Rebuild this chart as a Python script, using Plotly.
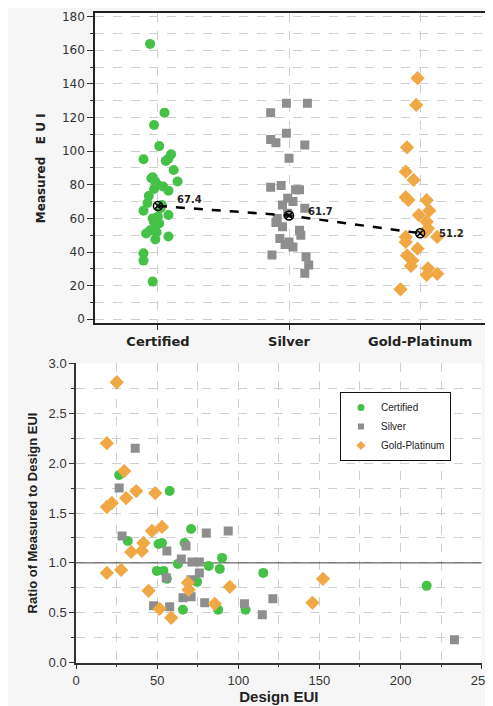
import plotly.graph_objects as go

# ---------------- data: top chart (Measured EUI by level) ----------------
categories = ["Certified", "Silver", "Gold-Platinum"]

cert_measured = [163.8, 122.9, 115.6, 103.0, 95.2, 98.1, 94.2, 95.5, 88.8, 81.9, 83.9, 81.9,
                 79.9, 79.0, 76.5, 73.3, 69.2, 64.6, 60.0, 61.0, 62.0, 55.5, 51.8, 51.0,
                 49.2, 47.5, 39.3, 34.9, 22.4, 66.0, 58.0, 57.0, 68.0, 53.0, 77.5, 84.5]
cert_jitter = [-0.06, 0.05, -0.03, 0.01, -0.11, 0.10, 0.06, 0.08, 0.12, 0.15, -0.05, -0.02,
               0.0, 0.04, 0.08, -0.07, -0.08, -0.11, -0.04, 0.0, 0.08, -0.02, -0.01, -0.09,
               0.08, -0.02, -0.11, -0.11, -0.04, 0.02, -0.03, 0.01, 0.03, -0.06, -0.03, -0.04]

silver_measured = [128.5, 128.5, 122.9, 110.6, 107.0, 105.0, 103.7, 95.8, 78.5, 79.5, 77.0, 77.0,
                   70.0, 68.0, 66.0, 63.0, 57.5, 55.0, 53.0, 48.0, 46.0, 43.0, 50.0, 38.2,
                   37.2, 32.3, 27.4, 44.5, 60.0, 72.0]
silver_jitter = [-0.02, 0.14, -0.14, -0.02, -0.14, -0.10, 0.12, 0.0, -0.14, -0.06, 0.05, 0.08,
                 0.03, -0.05, 0.12, -0.01, -0.10, -0.05, 0.08, -0.07, 0.0, 0.03, 0.09, -0.13,
                 0.13, 0.15, 0.12, -0.03, -0.09, -0.01]

gold_measured = [143.4, 127.5, 102.3, 87.8, 82.9, 72.6, 71.0, 70.8, 64.6, 62.0, 58.0, 54.0,
                 52.0, 49.0, 49.0, 46.0, 42.0, 38.0, 35.0, 31.7, 30.3, 26.4, 27.0, 17.8]
gold_jitter = [-0.02, -0.03, -0.10, -0.11, -0.05, -0.11, -0.09, 0.05, 0.07, -0.01, 0.05, 0.06,
               0.04, 0.13, -0.11, -0.11, -0.02, -0.10, -0.06, -0.07, 0.06, 0.05, 0.13, -0.15]

means = [67.4, 61.7, 51.2]
mean_labels = ["67.4", "61.7", "51.2"]

# ---------------- data: bottom chart (ratio vs design EUI) ----------------
cert_design = [26.6, 57.7, 70.9, 31.9, 53.0, 50.9, 66.9, 90.0, 62.8, 81.8, 49.8, 53.9,
               88.6, 56.0, 74.6, 65.9, 87.6, 104.5, 115.4, 216.1]
cert_ratio = [1.88, 1.72, 1.34, 1.22, 1.20, 1.19, 1.20, 1.05, 0.99, 0.97, 0.92, 0.92,
              0.94, 0.84, 0.81, 0.53, 0.53, 0.53, 0.90, 0.77]

silver_design = [36.5, 26.6, 28.4, 80.3, 93.8, 56.0, 67.8, 64.9, 71.5, 76.0, 76.0, 70.8,
                 55.6, 70.9, 65.9, 47.8, 57.7, 79.3, 103.8, 114.8, 121.3, 233.2]
silver_ratio = [2.15, 1.75, 1.27, 1.30, 1.32, 1.12, 1.17, 1.04, 1.01, 1.01, 0.90, 0.83,
                0.85, 0.66, 0.65, 0.57, 0.56, 0.60, 0.59, 0.48, 0.64, 0.23]

gold_design = [25.1, 19.0, 29.7, 37.1, 30.9, 48.8, 22.1, 19.0, 53.0, 46.8, 41.6, 34.0,
               40.6, 19.0, 27.8, 44.7, 69.0, 69.4, 94.8, 51.5, 58.7, 85.5, 152.2, 145.7]
gold_ratio = [2.81, 2.20, 1.92, 1.72, 1.65, 1.70, 1.60, 1.56, 1.36, 1.32, 1.20, 1.11,
              1.12, 0.90, 0.93, 0.72, 0.80, 0.73, 0.76, 0.54, 0.45, 0.59, 0.84, 0.60]

series_names = ["Certified", "Silver", "Gold-Platinum"]
ratio_reference = 1.0
design_range = [0, 250]

GREEN = "#45c148"
GRAY = "#8e8e8e"
ORANGE = "#f0a844"
colors = [GREEN, GRAY, ORANGE]
symbols = ["circle", "square", "diamond"]
sizes = [10, 9, 11]
legend_sizes = [7, 6, 7]

fig = go.Figure()

# ---- top chart
top_vals = [cert_measured, silver_measured, gold_measured]
top_jit = [cert_jitter, silver_jitter, gold_jitter]
for i in range(3):
    fig.add_trace(go.Scatter(x=[i + j for j in top_jit[i]], y=top_vals[i], mode="markers",
                             marker=dict(symbol=symbols[i], size=sizes[i], color=colors[i]),
                             showlegend=False, xaxis="x", yaxis="y", hoverinfo="skip"))

fig.add_trace(go.Scatter(x=[0, 1, 2], y=means, mode="lines+markers",
                         line=dict(color="black", width=2.5, dash="dash"),
                         marker=dict(symbol="circle-x-open", size=9, color="black",
                                     line=dict(width=1.5)),
                         showlegend=False, xaxis="x", yaxis="y", hoverinfo="skip"))

yshifts = [6, 4, 0]
for i, (m, lab) in enumerate(zip(means, mean_labels)):
    fig.add_annotation(x=i, y=m, xref="x", yref="y", text=lab, showarrow=False,
                       xanchor="left", yanchor="middle", xshift=17, yshift=yshifts[i],
                       font=dict(family="DejaVu Sans", size=10, color="#222", weight="bold"))

# ---- bottom chart: reference line at ratio = 1 (drawn beneath the markers)
fig.add_trace(go.Scatter(x=design_range, y=[ratio_reference, ratio_reference], mode="lines",
                         line=dict(color="#444", width=1), showlegend=False,
                         xaxis="x2", yaxis="y2", hoverinfo="skip", cliponaxis=False))

bot_x = [cert_design, silver_design, gold_design]
bot_y = [cert_ratio, silver_ratio, gold_ratio]
for i in range(3):
    fig.add_trace(go.Scatter(x=bot_x[i], y=bot_y[i], mode="markers", name=series_names[i],
                             marker=dict(symbol=symbols[i], size=sizes[i], color=colors[i]),
                             showlegend=False, xaxis="x2", yaxis="y2", hoverinfo="skip"))
# legend entries (small symbols as in the original legend)
for i in range(3):
    fig.add_trace(go.Scatter(x=[None], y=[None], mode="markers", name=series_names[i],
                             marker=dict(symbol=symbols[i], size=legend_sizes[i], color=colors[i]),
                             showlegend=True, xaxis="x2", yaxis="y2", hoverinfo="skip"))

# page offset (default body margin); figure a bit larger than the window so nothing clips
OFF = 8
W, H = 500, 712


def dx(px):
    return (px - OFF) / W


def dy(py):
    return 1 - (py - OFF) / H


grid_col = "#cfcfcf"

fig.update_layout(
    width=W, height=H,
    margin=dict(l=0, r=0, t=0, b=0),
    paper_bgcolor="#f6f6f6",
    plot_bgcolor="white",
    font=dict(family="Liberation Sans", size=12, color="#333"),
    legend=dict(x=dx(340), y=dy(392), xanchor="left", yanchor="top",
                bgcolor="white", bordercolor="#111", borderwidth=1,
                font=dict(family="Liberation Sans", size=10, color="#222"),
                itemsizing="trace", tracegroupgap=0, itemwidth=30),
    xaxis=dict(domain=[dx(95), dx(487)], anchor="y", range=[-0.48, 2.51], automargin=False,
               tickvals=[0, 1, 2], ticktext=categories,
               tickfont=dict(family="DejaVu Sans", size=13, color="#222", weight="bold"),
               ticks="outside", ticklen=5, tickcolor="#333",
               showgrid=True, gridcolor=grid_col, griddash="dash", gridwidth=1,
               zeroline=False, showline=True, mirror=True, linecolor="#222", linewidth=1.5),
    yaxis=dict(domain=[dy(323.3), dy(13.3)], anchor="x", range=[-2.4, 182],
               automargin=False,
               tickvals=list(range(0, 181, 20)),
               tickfont=dict(family="DejaVu Sans", size=12, color="#333"),
               ticks="outside", ticklen=6, tickcolor="#333",
               minor=dict(dtick=10, ticks="outside", ticklen=3, tickcolor="#333",
                          showgrid=True, gridcolor=grid_col, griddash="dash"),
               showgrid=True, gridcolor=grid_col, griddash="dash",
               zeroline=False, showline=True, mirror=True, linecolor="#222", linewidth=1.5,
               title=dict(text="Measured   E U I", standoff=14,
                          font=dict(family="DejaVu Sans", size=12, color="#222", weight="bold"))),
    xaxis2=dict(domain=[dx(76), dx(481.7)], anchor="y2", range=design_range, automargin=False,
                tickvals=[0, 50, 100, 150, 200, 250], ticklabeloverflow="allow",
                tickfont=dict(family="Liberation Sans", size=13, color="#333"),
                ticks="outside", ticklen=5, tickcolor="#333",
                minor=dict(dtick=25, ticks="outside", ticklen=3, tickcolor="#333",
                           showgrid=True, gridcolor=grid_col, griddash="dash"),
                showgrid=True, gridcolor=grid_col, griddash="dash",
                zeroline=False, showline=True, linecolor="#333", linewidth=1.5,
                title=dict(text="Design EUI", standoff=3,
                           font=dict(family="Liberation Sans", size=15, color="#222", weight="bold"))),
    yaxis2=dict(domain=[dy(662.7), dy(363.3)], anchor="x2", range=[0, 3],
                automargin=False,
                tickvals=[0, 0.5, 1.0, 1.5, 2.0, 2.5, 3.0], tickformat=".1f",
                tickfont=dict(family="Liberation Sans", size=13, color="#333"),
                ticks="outside", ticklen=5, tickcolor="#333",
                minor=dict(dtick=0.25, ticks="outside", ticklen=3, tickcolor="#333",
                           showgrid=True, gridcolor=grid_col, griddash="dash"),
                showgrid=True, gridcolor=grid_col, griddash="dash",
                zeroline=False, showline=True, linecolor="#333", linewidth=1.5,
                title=dict(text="Ratio of Measured to Design EUI", standoff=8,
                           font=dict(family="Liberation Sans", size=13, color="#222", weight="bold"))),
)

fig.write_html("out.html")
